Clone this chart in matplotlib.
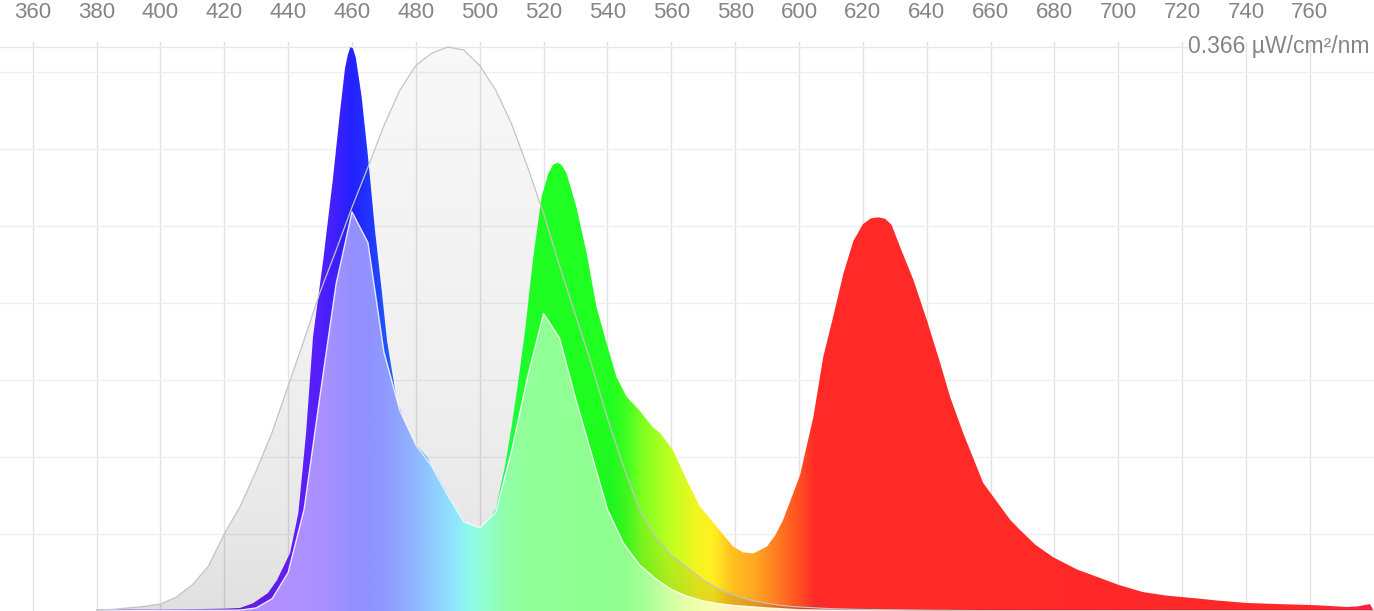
import numpy as np
import matplotlib
matplotlib.use("Agg")
import matplotlib.pyplot as plt
from matplotlib.patches import Polygon
from matplotlib.colors import to_rgb

# ---------------- data ----------------
spec_wl = [380, 390, 400, 410, 420, 425, 429, 433.7, 436.5, 438.5, 440.6, 443.2, 445.6, 447.8, 451,
           454, 456.2, 457.8, 458.7, 459.5, 460.3, 461.2, 463, 465, 467.2, 469.3, 471, 474, 476, 479,
           483.4, 487.6, 491, 494.8, 497.5, 500, 502, 505, 508, 510, 512, 514.2, 516.8, 519.4, 521.5,
           523, 524.3, 525.6, 527.2, 530.3, 533.5, 536.6, 539.7, 542.8, 546, 550.1, 554.3, 556.5, 560.6,
           564.8, 569, 574.2, 579.4, 582.5, 585.7, 589.9, 592.5, 595, 600.3, 604.5, 607.6, 610.7, 613.9,
           617, 620, 622.5, 624.8, 627, 629, 631.7, 635.8, 640, 644.2, 647.3, 651.5, 657.7, 663, 666.2,
           669.2, 674, 679.5, 687, 694.3, 700, 707.7, 715, 723.4, 731, 740.3, 750, 760, 766, 771.6, 775,
           778.8, 780]
spec_val = [0.0008, 0.001, 0.001, 0.0012, 0.0015, 0.002, 0.005, 0.0117, 0.020, 0.0286, 0.0376, 0.0636,
            0.115, 0.178, 0.228, 0.28, 0.323, 0.352, 0.361, 0.366, 0.365, 0.359, 0.334, 0.295, 0.247,
            0.208, 0.175, 0.137, 0.126, 0.111, 0.100, 0.085, 0.072, 0.059, 0.055, 0.0545, 0.056, 0.066,
            0.095, 0.12, 0.148, 0.182, 0.230, 0.269, 0.284, 0.2895, 0.291, 0.2895, 0.284, 0.262, 0.232,
            0.197, 0.174, 0.152, 0.139, 0.130, 0.119, 0.1155, 0.104, 0.085, 0.0677, 0.0547, 0.0417,
            0.038, 0.0374, 0.0417, 0.049, 0.059, 0.088, 0.126, 0.165, 0.191, 0.219, 0.240, 0.251, 0.2548,
            0.2555, 0.2545, 0.2505, 0.236, 0.215, 0.189, 0.161, 0.139, 0.115, 0.083, 0.068, 0.059, 0.0526,
            0.043, 0.035, 0.027, 0.0214, 0.017, 0.0123, 0.010, 0.0084, 0.0068, 0.0052, 0.0045, 0.0039,
            0.0033, 0.0026, 0.003, 0.0045, 0.0]

weighted_wl = [380, 400, 420, 425, 430, 435, 440, 445, 450, 455, 460, 465, 470, 475, 480, 485, 490, 495,
               500, 505, 510, 515, 520, 525, 530, 535, 540, 545, 550, 555, 560, 565, 570, 575, 580, 590,
               600, 620, 650, 700, 780]
weighted_val = [0.0003, 0.0005, 0.0005, 0.0006, 0.002, 0.008, 0.025, 0.066, 0.14, 0.212, 0.259, 0.239,
                0.168, 0.130, 0.108, 0.094, 0.075, 0.058, 0.054, 0.064, 0.104, 0.152, 0.193, 0.177, 0.138,
                0.102, 0.066, 0.044, 0.030, 0.021, 0.014, 0.0095, 0.0065, 0.0047, 0.0035, 0.002, 0.0008,
                0.0003, 0.0001, 0.0, 0.0]

curve_wl = [380, 385, 390, 395, 400, 405, 410, 415, 420, 425, 430, 435, 440, 445, 450, 455, 460, 465,
            470, 475, 480, 485, 490, 495, 500, 505, 510, 515, 520, 525, 530, 535, 540, 545, 550, 555,
            560, 565, 570, 575, 580, 585, 590, 595, 600, 610, 620, 640, 660, 700, 780]
curve_val = [0.0006, 0.001, 0.002, 0.003, 0.0045, 0.009, 0.017, 0.029, 0.050, 0.068, 0.091, 0.116, 0.146,
             0.176, 0.207, 0.234, 0.262, 0.288, 0.315, 0.338, 0.354, 0.362, 0.366, 0.364, 0.354, 0.338,
             0.316, 0.288, 0.258, 0.224, 0.192, 0.160, 0.125, 0.094, 0.066, 0.048, 0.036, 0.028, 0.020,
             0.014, 0.010, 0.007, 0.005, 0.0035, 0.0026, 0.0015, 0.001, 0.0005, 0.0002, 0.0001, 0.0]

x_ticks = list(range(360, 761, 20))
peak_value = 0.366
unit_label = "µW/cm²/nm"

# ---------------- styles ----------------
spec_colors = [(380, '#7a20ff'), (440, '#6a20ff'), (450, '#5420ff'), (456, '#3a20ff'), (460, '#2222ff'),
               (466, '#2238ff'), (472, '#2060ff'), (480, '#2080ff'), (488, '#20a8ff'), (494, '#20d8f0'),
               (499, '#20ffc8'), (504, '#20ff80'), (510, '#20ff40'), (516, '#20ff24'), (541, '#20ff20'),
               (546, '#40ff20'), (551, '#80ff20'), (560, '#c0ff20'), (569, '#f8f420'), (573, '#fff020'),
               (579, '#ffc020'), (586, '#ffa820'), (595, '#ff7020'), (600, '#ff5020'), (605, '#ff2a28'),
               (760, '#ff2828'), (780, '#ff2040')]
weighted_colors = [(380, '#b890ff'), (440, '#b090ff'), (452, '#a890ff'), (462, '#9090ff'), (470, '#9098ff'),
                   (478, '#90b0ff'), (486, '#90d0ff'), (492, '#90e4ff'), (497, '#90fce8'), (502, '#90ffd0'),
                   (508, '#90ffa8'), (514, '#90ff98'), (545, '#90ff90'), (552, '#a8ff98'), (558, '#c8ffa0'),
                   (565, '#e8ffa8'), (572, '#f8ffb0'), (580, '#fff0c0'), (600, '#fff0d0'), (780, '#fff0e0')]

W, H = 1374, 611
TOP_PX = 41.7
XMIN, XMAX = 349.76, 780.07
YMAX = (H - TOP_PX) / 1541.0

fig = plt.figure(figsize=(W / 100, H / 100), dpi=100)
fig.patch.set_facecolor('white')
ax = fig.add_axes([0, 0, 1, 1 - TOP_PX / H])
ax.set_xlim(XMIN, XMAX)
ax.set_ylim(0, YMAX)
for s in ax.spines.values():
    s.set_visible(False)

# grid
for xt in x_ticks:
    ax.axvline(xt, color='#e2e2e2', lw=1.0, zorder=0.5)
for yv in np.arange(0.05, 0.351, 0.05):
    ax.axhline(yv, color='#efefef', lw=1.0, zorder=0.5)
ax.axhline(peak_value, xmin=0, xmax=1187 / W, color='#e6e6e6', lw=1.0, zorder=0.5)

ax.set_xticks(x_ticks)
ax.set_xticklabels([str(t) for t in x_ticks])
ax.set_yticks([])
ax.tick_params(axis='x', top=True, labeltop=True, bottom=False, labelbottom=False,
               length=0, pad=13.5, labelsize=16, labelcolor='#858585')
for lab in ax.get_xticklabels():
    lab.set_family('Liberation Sans')


def clip_poly(wl, val):
    verts = list(zip(wl, val)) + [(wl[-1], 0), (wl[0], 0)]
    p = Polygon(verts, closed=True, transform=ax.transData, facecolor='none', edgecolor='none')
    ax.add_patch(p)
    return p


def hgrad(stops, poly, z):
    cols = np.linspace(XMIN, XMAX, 2000)
    sw = [s[0] for s in stops]
    rgb = np.array([to_rgb(s[1]) for s in stops])
    img = np.stack([np.interp(cols, sw, rgb[:, i]) for i in range(3)], axis=-1)[None, :, :]
    im = ax.imshow(img, extent=[XMIN, XMAX, 0, YMAX], aspect='auto', interpolation='bilinear',
                   origin='lower', zorder=z)
    im.set_clip_path(poly)


# gray reference curve fill (beneath)
p_gray = clip_poly(curve_wl, curve_val)
vv = np.linspace(0, YMAX, 400)
ov = np.zeros((400, 1, 4))
ov[:, 0, 3] = np.interp(vv, [0, 0.05, 0.15, peak_value], [0.125, 0.095, 0.065, 0.03])
im = ax.imshow(ov, extent=[XMIN, XMAX, 0, YMAX], aspect='auto', origin='lower', zorder=1,
               interpolation='bilinear')
im.set_clip_path(p_gray)

# spectrum
p_spec = clip_poly(spec_wl, spec_val)
hgrad(spec_colors, p_spec, 2)

# faint shading of the reference curve area where it lies over the spectrum
cols = np.linspace(XMIN, XMAX, 1500)
under = vv[:, None] < np.interp(cols, curve_wl, curve_val, left=0, right=0)[None, :]
sh = np.zeros((400, 1500, 4))
sh[:, :, 3] = np.interp(vv, [0, 0.04, 0.12, peak_value], [0.11, 0.05, 0.015, 0.0])[:, None] * under
im2 = ax.imshow(sh, extent=[XMIN, XMAX, 0, YMAX], aspect='auto', origin='lower', zorder=3,
                interpolation='bilinear')
im2.set_clip_path(p_spec)

# weighted spectrum
p_w = clip_poly(weighted_wl, weighted_val)
hgrad(weighted_colors, p_w, 4)
ax.plot(weighted_wl, weighted_val, color='white', lw=1.0, alpha=0.85, zorder=5)

ax.plot(curve_wl, curve_val, color='#c4c4c4', lw=0.9, zorder=6)

fig.text(1370 / W, 1 - 47 / H, f"{peak_value} {unit_label}", ha='right', va='center',
         color='#858585', fontsize=16.5, family='Liberation Sans')

fig.savefig('out.png', dpi=100, facecolor='white')
